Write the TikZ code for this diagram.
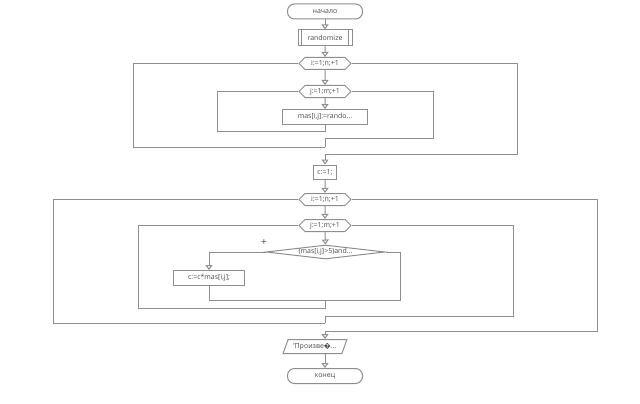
\documentclass[tikz,border=0pt]{standalone}
\usepackage{fontspec}
\setmainfont{Open Sans}
\usetikzlibrary{shapes.geometric,shapes.symbols,arrows.meta}
\definecolor{lineclr}{HTML}{8E8E8E}
\definecolor{textclr}{HTML}{4A4A4A}
\tikzset{
	base/.style={draw=lineclr, line width=1pt, text=textclr, font=\fontsize{7}{7}\selectfont, inner sep=0pt},
	terminal/.style={base, rectangle, rounded corners=7pt, minimum width=75pt, minimum height=15pt},
	process/.style={base, rectangle, minimum height=15pt},
	subproc/.style={process, path picture={
		\draw[lineclr, line width=1pt] ([xshift=3.5pt]path picture bounding box.north west) -- ([xshift=3.5pt]path picture bounding box.south west)
			([xshift=-3.5pt]path picture bounding box.north east) -- ([xshift=-3.5pt]path picture bounding box.south east);}},
	loophex/.style={base, signal, signal to=east and west, minimum width=52pt, minimum height=12pt},
	decision/.style={base, diamond, aspect=8.5, minimum width=119pt, minimum height=14pt},
	io/.style={base, trapezium, trapezium left angle=60, trapezium right angle=120, trapezium stretches=true, minimum width=64pt, minimum height=14pt},
	line/.style={draw=lineclr, line width=1pt},
	arr/.style={line, -{Triangle[open, width=7pt, length=5pt]}},
}

\begin{document}
\begin{tikzpicture}[x=1pt, y=-1pt]
	\useasboundingbox (0,0) rectangle (640,404);

	\node [terminal] (start) at (325,11.5) {начало};
	\node [subproc, minimum width=54pt, minimum height=16pt] (rnd) at (325,38) {randomize};
	\node [loophex] (loopi) at (325,63.5) {i:=1;n;+1};
	\node [loophex] (loopj) at (325,91.5) {j:=1;m;+1};
	\node [process, minimum width=85pt] (fill) at (325,117) {mas[i,j]:=rando...};
	\node [process, minimum width=23pt, minimum height=14pt] (c1) at (325,172) {c:=1;};
	\node [loophex] (loopi2) at (325,199.5) {i:=1;n;+1};
	\node [loophex] (loopj2) at (325,225.5) {j:=1;m;+1};
	\node [decision] (cond) at (325.5,252) {(mas[i,j]>5)and...};
	\node [process, minimum width=71pt] (mult) at (209,278) {c:=c*mas[i,j];};
	\node [io] (out) at (315,346.5) {'Произве�...};
	\node [terminal] (finish) at (325,376) {конец};
	\node [text=textclr, font=\fontsize{10}{10}\selectfont] (plus) at (264,243) {+};

	\coordinate (jback) at (217,131);
	\coordinate (jexit) at (433,138);
	\coordinate (imerge) at (325,147);
	\coordinate (iback) at (133,147);
	\coordinate (iexit) at (517.5,154);
	\coordinate (ifend) at (400.7,300.7);
	\coordinate (ifmid) at (325,300.7);
	\coordinate (jback2) at (138,308.3);
	\coordinate (jexit2) at (513,316);
	\coordinate (imerge2) at (325,323.3);
	\coordinate (iback2) at (53,323.3);
	\coordinate (iexit2) at (597,331);

	\draw [arr] (start) -- (rnd);
	\draw [arr] (rnd) -- (loopi);
	\draw [arr] (loopi) -- (loopj);
	\draw [arr] (loopj) -- (fill);
	\draw [line] (fill.south) |- (jback) |- (loopj.west);
	\draw [line] (loopj.east) -| (jexit) -| (imerge);
	\draw [line] (imerge) -- (iback) |- (loopi.west);
	\draw [arr] (loopi.east) -| (iexit) -| (c1.north);

	\draw [arr] (c1) -- (loopi2);
	\draw [arr] (loopi2) -- (loopj2);
	\draw [arr] (loopj2) -- (cond);
	\draw [arr] (cond.west) -| (mult.north);
	\draw [line] (cond.east) -| (ifend) -| (mult.south);
	\draw [line] (ifmid) |- (jback2) |- (loopj2.west);
	\draw [line] (loopj2.east) -| (jexit2) -| (imerge2);
	\draw [line] (imerge2) -- (iback2) |- (loopi2.west);
	\draw [arr] (loopi2.east) -| (iexit2) -| (imerge2 |- out.north);
	\draw [arr] (finish.north |- out.south) -- (finish.north);
\end{tikzpicture}
\end{document}
